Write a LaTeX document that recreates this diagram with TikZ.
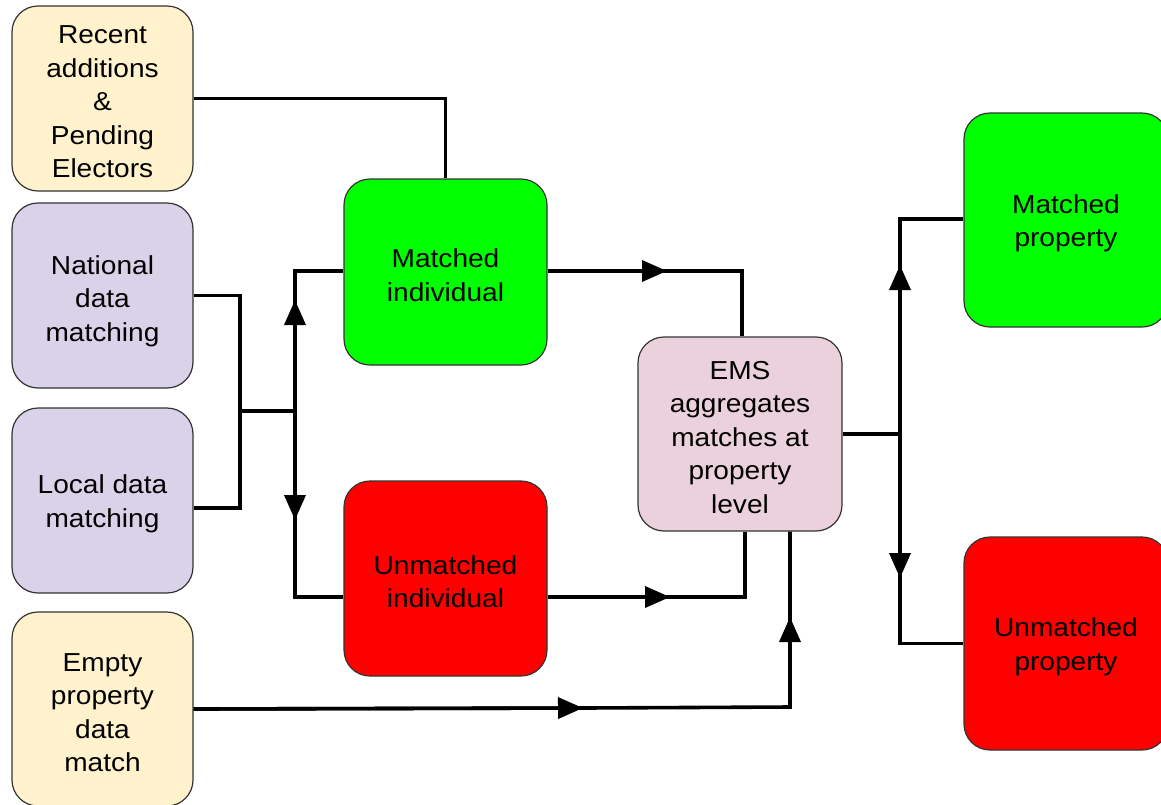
\documentclass[tikz,border=0pt]{standalone}
\usepackage{fontspec}
\setmainfont{Liberation Sans}[FakeStretch=1.08]
\usetikzlibrary{arrows.meta}
\definecolor{cyel}{HTML}{FFF2CC}
\definecolor{clav}{HTML}{D9D2E9}
\definecolor{cgrn}{HTML}{00FF00}
\definecolor{cred}{HTML}{FF0000}
\definecolor{cpnk}{HTML}{EAD1DC}
\newcommand\tpx{\rule{0pt}{25pt}}
\tikzset{
  box/.style={draw=black!80, line width=1.2pt, rounded corners=26pt, align=center,
    font=\fontsize{26}{33.5}\selectfont, inner sep=0pt},
  conn/.style={line width=3.6pt, line join=miter},
  arr/.style={conn, -{Triangle[length=25pt,width=21pt]}}
}
\begin{document}
\begin{tikzpicture}[x=1pt,y=-1pt]
\useasboundingbox (0,0) rectangle (1161,804);
\clip (0,0) rectangle (1161,804);
\fill[white] (0,0) rectangle (1161,804);
% nodes
\node[box, fill=cyel, minimum width=181pt, minimum height=185pt] (rec) at (102.5,98.5) {\tpx Recent\\additions\\\&\\Pending\\Electors};
\node[box, fill=clav, minimum width=181pt, minimum height=185pt] (nat) at (102.5,295.5) {\rule{0pt}{30pt}National\\data\\matching};
\node[box, fill=clav, minimum width=181pt, minimum height=185pt] (loc) at (102.5,500.5) {\tpx Local data\\matching};
\node[box, fill=cyel, minimum width=181pt, minimum height=194pt] (emp) at (102.5,709) {\tpx Empty\\property\\data\\match};
\node[box, fill=cgrn, minimum width=203pt, minimum height=186pt] (mi) at (445.5,272) {\tpx Matched\\individual};
\node[box, fill=cred, minimum width=203pt, minimum height=195pt] (ui) at (445.5,578.5) {\tpx Unmatched\\individual};
\node[box, fill=cpnk, minimum width=204pt, minimum height=194pt] (ems) at (740,434) {\tpx EMS\\aggregates\\matches at\\property\\level};
\node[box, fill=cgrn, minimum width=204pt, minimum height=214pt] (mp) at (1066,220) {\tpx Matched\\property};
\node[box, fill=cred, minimum width=204pt, minimum height=213pt] (up) at (1066,643.5) {\tpx Unmatched\\property};
% junctions and arrow tips
\coordinate (j1) at (240,411);
\coordinate (j2) at (295,411);
\coordinate (a1) at (295,300);
\coordinate (a2) at (295,520);
\coordinate (a3) at (667,271);
\coordinate (a4) at (670,597);
\coordinate (a5) at (583,708);
\coordinate (c1) at (790,707);
\coordinate (a6) at (790,617);
\coordinate (j3) at (900,434);
\coordinate (a7) at (900,265);
\coordinate (a8) at (900,578);
% connectors
\draw[conn] (rec.east) -| (mi.north);
\draw[conn] (nat.east) -| (j1) |- ([yshift=-7.5pt]loc.east);
\draw[conn] (j1) -- (j2);
\draw[conn] (j2) -- (a1) |- ([yshift=1pt]mi.west);
\draw[arr] (j2) -- (a1);
\draw[conn] (j2) -- (a2) |- ([yshift=-18.5pt]ui.west);
\draw[arr] (j2) -- (a2);
\draw[conn] ([yshift=1pt]mi.east) -- (a3) -| ([xshift=2pt]ems.north);
\draw[arr] ([yshift=1pt]mi.east) -- (a3);
\draw[conn] ([yshift=-18.5pt]ui.east) -- (a4) -| ([xshift=5pt]ems.south);
\draw[arr] ([yshift=-18.5pt]ui.east) -- (a4);
\draw[conn] (emp.east) -- (a5) -- (c1) -- (a6) -- ([xshift=50pt]ems.south);
\draw[arr] (emp.east) -- (a5);
\draw[arr] (c1) -- (a6);
\draw[conn] (ems.east) -- (j3);
\draw[conn] (j3) -- (a7) |- ([yshift=1pt]mp.west);
\draw[arr] (j3) -- (a7);
\draw[conn] (j3) -- (a8) |- (up.west);
\draw[arr] (j3) -- (a8);
\end{tikzpicture}
\end{document}
